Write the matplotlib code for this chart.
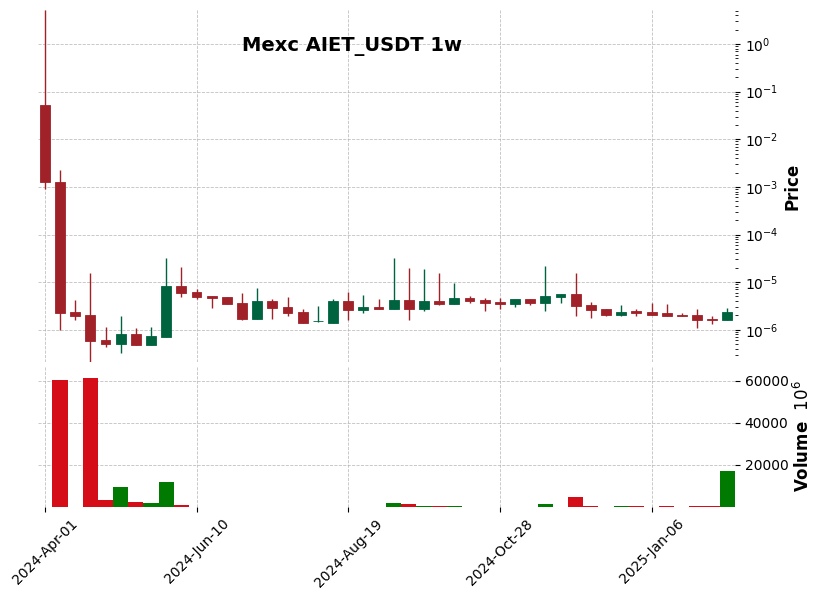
import matplotlib
matplotlib.use("Agg")
import matplotlib.pyplot as plt
import numpy as np
import pandas as pd

# weekly candles, Mexc AIET_USDT
dates = pd.date_range("2024-04-01", periods=46, freq="7D")

opens = [0.052, 0.00127, 2.39e-6, 2.07e-6, 6.2e-7, 4.9e-7, 8.3e-7, 4.7e-7, 7.1e-7, 8.4e-6,
         6.3e-6, 5.2e-6, 4.9e-6, 3.7e-6, 1.7e-6, 4.1e-6, 3.0e-6, 2.39e-6, 1.5e-6, 1.4e-6,
         4.1e-6, 2.6e-6, 3.0e-6, 2.7e-6, 4.3e-6, 2.7e-6, 4.1e-6, 3.5e-6, 4.7e-6, 4.3e-6,
         3.9e-6, 3.5e-6, 4.5e-6, 3.7e-6, 4.9e-6, 5.7e-6, 3.3e-6, 2.7e-6, 2.07e-6, 2.5e-6,
         2.39e-6, 2.2e-6, 2.07e-6, 2.07e-6, 1.7e-6, 1.62e-6]
highs = [5.2, 0.00228, 4.26e-6, 1.57e-5, 1.15e-6, 1.97e-6, 1.1e-6, 1.15e-6, 3.2e-5, 2.1e-5,
         7.0e-6, 5.2e-6, 4.9e-6, 6.0e-6, 7.6e-6, 4.5e-6, 4.9e-6, 2.7e-6, 3.2e-6, 4.5e-6,
         6.3e-6, 5.4e-6, 4.5e-6, 3.2e-5, 2.0e-5, 1.9e-5, 1.57e-5, 9.7e-6, 5.2e-6, 4.7e-6,
         4.7e-6, 4.5e-6, 4.5e-6, 2.2e-5, 5.7e-6, 1.57e-5, 3.9e-6, 2.7e-6, 3.3e-6, 2.7e-6,
         3.7e-6, 3.5e-6, 2.28e-6, 2.7e-6, 1.97e-6, 2.8e-6]
lows = [0.00089, 1.0e-6, 1.62e-6, 2.1e-7, 4.4e-7, 3.2e-7, 4.7e-7, 4.7e-7, 6.9e-7, 4.9e-6,
        4.5e-6, 2.9e-6, 3.5e-6, 1.62e-6, 1.7e-6, 1.7e-6, 1.97e-6, 1.4e-6, 1.48e-6, 1.4e-6,
        1.62e-6, 2.28e-6, 2.7e-6, 2.7e-6, 1.62e-6, 2.5e-6, 3.3e-6, 3.5e-6, 3.7e-6, 2.5e-6,
        2.7e-6, 3.0e-6, 3.3e-6, 2.5e-6, 3.7e-6, 1.97e-6, 1.8e-6, 1.9e-6, 1.97e-6, 1.97e-6,
        2.07e-6, 1.97e-6, 1.9e-6, 1.1e-6, 1.35e-6, 1.62e-6]
closes = [0.00124, 2.28e-6, 1.97e-6, 5.9e-7, 4.9e-7, 8.3e-7, 4.7e-7, 7.5e-7, 8.4e-6, 6.0e-6,
          4.9e-6, 4.7e-6, 3.5e-6, 1.7e-6, 4.1e-6, 2.9e-6, 2.28e-6, 1.4e-6, 1.55e-6, 4.1e-6,
          2.6e-6, 3.0e-6, 2.7e-6, 4.3e-6, 2.7e-6, 4.1e-6, 3.5e-6, 4.7e-6, 4.1e-6, 3.7e-6,
          3.5e-6, 4.5e-6, 3.7e-6, 5.2e-6, 5.7e-6, 3.2e-6, 2.6e-6, 2.07e-6, 2.39e-6, 2.28e-6,
          2.07e-6, 1.97e-6, 1.93e-6, 1.62e-6, 1.62e-6, 2.39e-6]
# volume in units of 10^6
volumes = [0, 60300, 50, 61400, 3300, 9500, 2400, 1900, 11900, 800,
           50, 50, 50, 50, 50, 50, 50, 50, 50, 50,
           50, 50, 50, 1800, 1200, 600, 500, 500, 50, 50,
           50, 50, 50, 1300, 50, 4800, 400, 50, 400, 400,
           50, 400, 50, 400, 400, 17100]

up_col, down_col = "#006340", "#a02128"
vup_col, vdown_col = "#007a00", "#d50d18"

fig = plt.figure(figsize=(8.22, 5.99), dpi=100)
ax = fig.add_axes([38 / 822, 1 - 362 / 599, 697 / 822, 352 / 599])
axv = fig.add_axes([38 / 822, 1 - 507 / 599, 697 / 822, 141 / 599], sharex=ax)

x = np.arange(len(dates))
o = np.array(opens); c = np.array(closes); h = np.array(highs); l = np.array(lows)
up = c >= o
cols = [up_col if u else down_col for u in up]

ax.vlines(x, l, h, colors=cols, linewidth=1, zorder=2)
lo = np.minimum(o, c); hi = np.maximum(o, c)
ax.bar(x, hi - lo, bottom=lo, width=0.65, color=cols, edgecolor=cols, linewidth=0.6, zorder=3)
ax.set_yscale("log")
ax.set_ylim(2.1e-7, 5.2)
ax.set_xlim(-0.45, 45.5)

vcols = [vup_col if u else vdown_col for u in up]
axv.bar(x, volumes, width=1.0, color=vcols, zorder=3)
axv.set_ylim(0, 67000)
axv.set_yticks([20000, 40000, 60000])

for a in (ax, axv):
    for s in a.spines.values():
        s.set_visible(False)
    a.yaxis.tick_right()
    a.yaxis.set_label_position("right")
    a.grid(True, linestyle="--", color="#b0b0b0", linewidth=0.6, alpha=0.8)
    a.tick_params(axis="y", labelsize=10)
    a.set_axisbelow(True)

ax.tick_params(axis="x", labelbottom=False, length=0)
ax.set_ylabel("Price", fontsize=12, fontweight="bold")
ax.yaxis.set_label_coords(1.069, 0.5)
axv.set_ylabel("Volume  $10^{6}$", fontsize=12, fontweight="bold")
axv.yaxis.set_label_coords(1.083, 0.5)

ticks = [0, 10, 20, 30, 40]
axv.set_xticks(ticks)
axv.set_xticklabels([dates[i].strftime("%Y-%b-%d") for i in ticks], rotation=45,
                    ha="center", fontsize=10)

fig.text(352 / 822, 1 - 46 / 599, "Mexc AIET_USDT 1w", ha="center", va="center",
         fontsize=14, fontweight="bold")

fig.savefig("out.png", dpi=100)
